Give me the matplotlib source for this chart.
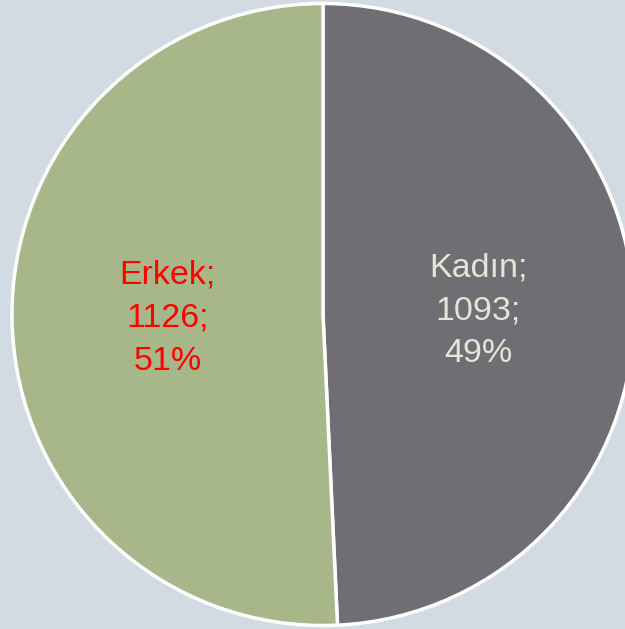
import matplotlib.pyplot as plt

# Cinsiyet dağılımı
categories = ["Kadın", "Erkek"]
counts = [1093, 1126]
colors = ["#6F6E73", "#A7B78A"]
label_colors = ["#E3E6D8", "#FF0000"]

total = sum(counts)
labels = [f"{c};\n{n};\n{round(n / total * 100)}%" for c, n in zip(categories, counts)]

fig = plt.figure(figsize=(6.25, 6.29), dpi=100, facecolor="#D3DBE2")
W, H = 625, 629
cx, cy, r = 323, 629 - 314.5, 311
ax = fig.add_axes([(cx - r) / W, (cy - r) / H, 2 * r / W, 2 * r / H])
ax.set_facecolor("none")

wedges, texts = ax.pie(
    counts, labels=labels, colors=colors, startangle=90, counterclock=False,
    labeldistance=0.5, radius=1,
    wedgeprops=dict(edgecolor="white", linewidth=2.5),
    textprops=dict(fontsize=24.5, family="Liberation Sans", ha="center", va="center",
                   linespacing=1.5),
)
for t, col in zip(texts, label_colors):
    t.set_color(col)
    t.set_horizontalalignment("center")
for w in wedges:
    w.set_clip_on(False)

ax.set_xlim(-1, 1)
ax.set_ylim(-1, 1)
ax.set_aspect("auto")
ax.axis("off")

plt.savefig("out.png", dpi=100, facecolor=fig.get_facecolor())
